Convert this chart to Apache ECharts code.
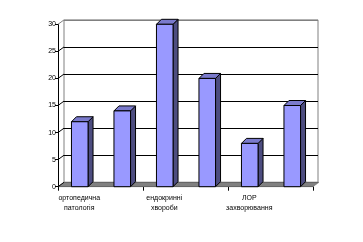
<!DOCTYPE html>
<html>
<head>
<meta charset="utf-8">
<script src="https://cdn.jsdelivr.net/npm/echarts@6/dist/echarts.min.js"></script>
<style>html,body{margin:0;padding:0;background:#fff;}#c{width:363px;height:242px;}</style>
</head>
<body>
<div id="c"></div>
<script>
const categories = ['ортопедична\nпатологія', '', 'ендокринні\nхвороби', '', 'ЛОР\nзахворювання', ''];
const values = [12, 14, 30, 20, 8, 15];
const yTicks = [0, 5, 10, 15, 20, 25, 30];

const DX = 6, DY = 4.4, D = 5;
const font = 'Liberation Sans';

const chart = echarts.init(document.getElementById('c'), null, {renderer: 'canvas'});
chart.setOption({
  animation: false,
  backgroundColor: '#fff',
  grid: [
    {left: 58, top: 24.3, width: 255, height: 162.4, show: false},
    {left: 64, top: 19.9, width: 254, height: 162.4, show: true, borderColor: '#808080', borderWidth: 1, backgroundColor: '#fff'}
  ],
  xAxis: [
    {
      gridIndex: 0, type: 'category', data: categories.map((c, i) => i), boundaryGap: true,
      axisLine: {show: true, lineStyle: {color: '#000', width: 1}},
      axisTick: {show: true, interval: 1, length: 4, lineStyle: {color: '#000'}},
      axisLabel: {interval: 1, formatter: (v, i) => categories[i], fontSize: 7, fontFamily: font, color: '#000', lineHeight: 10, margin: 6}
    },
    {gridIndex: 1, type: 'category', data: categories.map((c, i) => i), show: false}
  ],
  yAxis: [
    {
      gridIndex: 0, type: 'value', min: 0, max: 30, interval: 5,
      axisLine: {show: true, lineStyle: {color: '#000', width: 1}},
      axisTick: {show: true, length: 3, lineStyle: {color: '#000'}},
      axisLabel: {fontSize: 7, fontFamily: font, color: '#000', margin: 2},
      splitLine: {show: false}
    },
    {
      gridIndex: 1, type: 'value', min: 0, max: 30, interval: 5,
      axisLine: {show: false}, axisTick: {show: false}, axisLabel: {show: false},
      splitLine: {show: true, lineStyle: {color: ['#000', '#000', '#000', '#000', '#000', '#000', '#808080'], width: 1}}
    }
  ],
  series: [
    {
      type: 'custom', xAxisIndex: 0, yAxisIndex: 0, z: 1,
      data: [[0, 0]],
      renderItem: function (params, api) {
        const band = api.size([1, 0])[0];
        const a = api.coord([0, 0]);
        const b = api.coord([categories.length - 1, 0]);
        const xl = a[0] - band / 2, xr = b[0] + band / 2, y = a[1];
        return {type: 'polygon', shape: {points: [[xl, y], [xr, y], [xr + DX, y - DY], [xl + DX, y - DY]]},
          style: {fill: '#808080', stroke: '#6e6e6e', lineWidth: 0.5}};
      }
    },
    {
      type: 'custom', xAxisIndex: 0, yAxisIndex: 0, z: 1,
      data: yTicks.map(v => [0, v]),
      renderItem: function (params, api) {
        const band = api.size([1, 0])[0];
        const p = api.coord([0, api.value(1)]);
        const x = p[0] - band / 2;
        return {type: 'line', shape: {x1: x, y1: p[1], x2: x + DX, y2: p[1] - DY},
          style: {stroke: api.value(1) === 30 ? '#808080' : '#000', lineWidth: 1}};
      }
    },
    {
      type: 'custom', xAxisIndex: 0, yAxisIndex: 0, z: 3,
      data: values.map((v, i) => [i, v]),
      renderItem: function (params, api) {
        const i = api.value(0), v = api.value(1);
        const top = api.coord([i, v]);
        const base = api.coord([i, 0]);
        const band = api.size([1, 0])[0];
        const w = band * 0.39;
        const x0 = top[0] - w / 2 + 0.5, x1 = x0 + w;
        const yt = top[1], yb = base[1];
        return {type: 'group', children: [
          {type: 'polygon', shape: {points: [[x1, yt], [x1 + D, yt - D], [x1 + D, yb - D], [x1, yb]]},
            style: {fill: '#4D4D80', stroke: '#000', lineWidth: 1}},
          {type: 'polygon', shape: {points: [[x0, yt], [x0 + D, yt - D], [x1 + D, yt - D], [x1, yt]]},
            style: {fill: '#7A7ACC', stroke: '#000', lineWidth: 1}},
          {type: 'rect', shape: {x: x0, y: yt, width: w, height: yb - yt},
            style: {fill: '#9999FF', stroke: '#000', lineWidth: 1}}
        ]};
      }
    }
  ]
});
</script>
</body>
</html>
